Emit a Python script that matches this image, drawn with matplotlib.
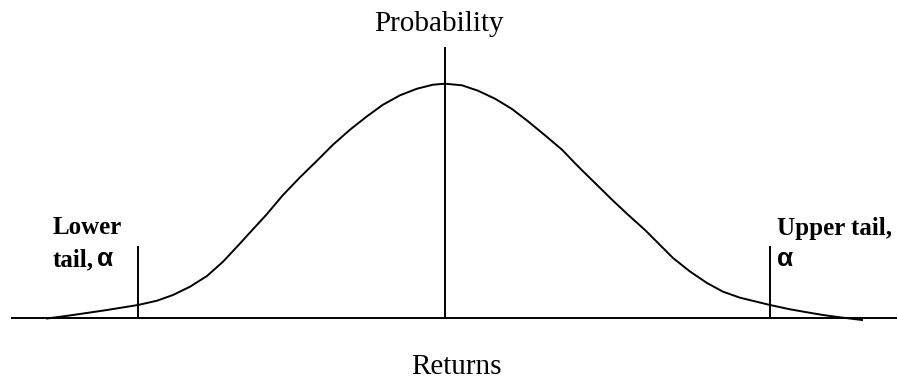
import matplotlib
matplotlib.use('Agg')
import matplotlib.pyplot as plt

# curve: returns (offset from centre) and probability height
returns = [-3.98, -3.72, -3.38, -3.07, -2.88, -2.72, -2.55, -2.38, -2.22, -2.05,
           -1.95, -1.78, -1.62, -1.45, -1.28, -1.12, -0.95, -0.78, -0.62, -0.45,
           -0.28, -0.12, 0.0, 0.17, 0.33, 0.5, 0.67, 0.83, 1.0, 1.17,
           1.33, 1.5, 1.67, 1.83, 2.0, 2.12, 2.28, 2.45, 2.62, 2.78,
           2.95, 3.25, 3.45, 3.62, 3.78, 3.95, 4.17]
probability = [-0.5, 3.0, 8.0, 13.0, 17.3, 23.0, 31.3, 42.0, 56.3, 74.5,
               85.5, 104.0, 123.0, 140.7, 157.3, 173.3, 188.3, 201.7, 213.3, 222.7,
               229.3, 233.3, 234.3, 232.7, 227.3, 219.3, 209.0, 196.7, 182.7, 168.3,
               151.7, 135.0, 118.3, 103.3, 88.0, 76.0, 60.0, 46.5, 35.0, 26.3,
               20.3, 13.0, 8.7, 5.7, 3.0, 0.7, -2.0]

# axis and marker lines
axis_range = [-4.34, 4.52]
centre_height = 271
lower_tail = -3.07
upper_tail = 3.25
tail_height = 72

fig = plt.figure(figsize=(8.98, 3.81), dpi=100)
ax = fig.add_axes([0, 0, 1, 1])
ax.set_xlim(-4.45, 4.53)
ax.set_ylim(-63, 318)
ax.axis('off')

lw = 1.4
ax.plot(axis_range, [0, 0], color='black', lw=lw, solid_capstyle='butt')
ax.plot([0, 0], [0, centre_height], color='black', lw=lw, solid_capstyle='butt')
ax.plot([lower_tail, lower_tail], [0, tail_height], color='black', lw=lw, solid_capstyle='butt')
ax.plot([upper_tail, upper_tail], [0, tail_height], color='black', lw=lw, solid_capstyle='butt')
ax.plot(returns, probability, color='black', lw=lw, solid_joinstyle='round')

serif = 'Liberation Serif'
ax.text(-0.06, 287.3, 'Probability', family=serif, fontsize=21, ha='center', va='baseline')
ax.text(0.11, -56, 'Returns', family=serif, fontsize=21, ha='center', va='baseline')

ax.text(-3.92, 84, 'Lower', family=serif, fontsize=18, weight='bold', va='baseline')
ax.text(-3.92, 52, 'tail,', family=serif, fontsize=18, weight='bold', va='baseline')
ax.text(-3.48, 52, '\u03b1', family='Liberation Sans', fontsize=19, weight='bold', va='baseline')

ax.text(3.32, 83, 'Upper tail,', family=serif, fontsize=18, weight='bold', va='baseline')
ax.text(3.32, 52, '\u03b1', family='Liberation Sans', fontsize=19, weight='bold', va='baseline')

fig.savefig('out.png', dpi=100, facecolor='white')
